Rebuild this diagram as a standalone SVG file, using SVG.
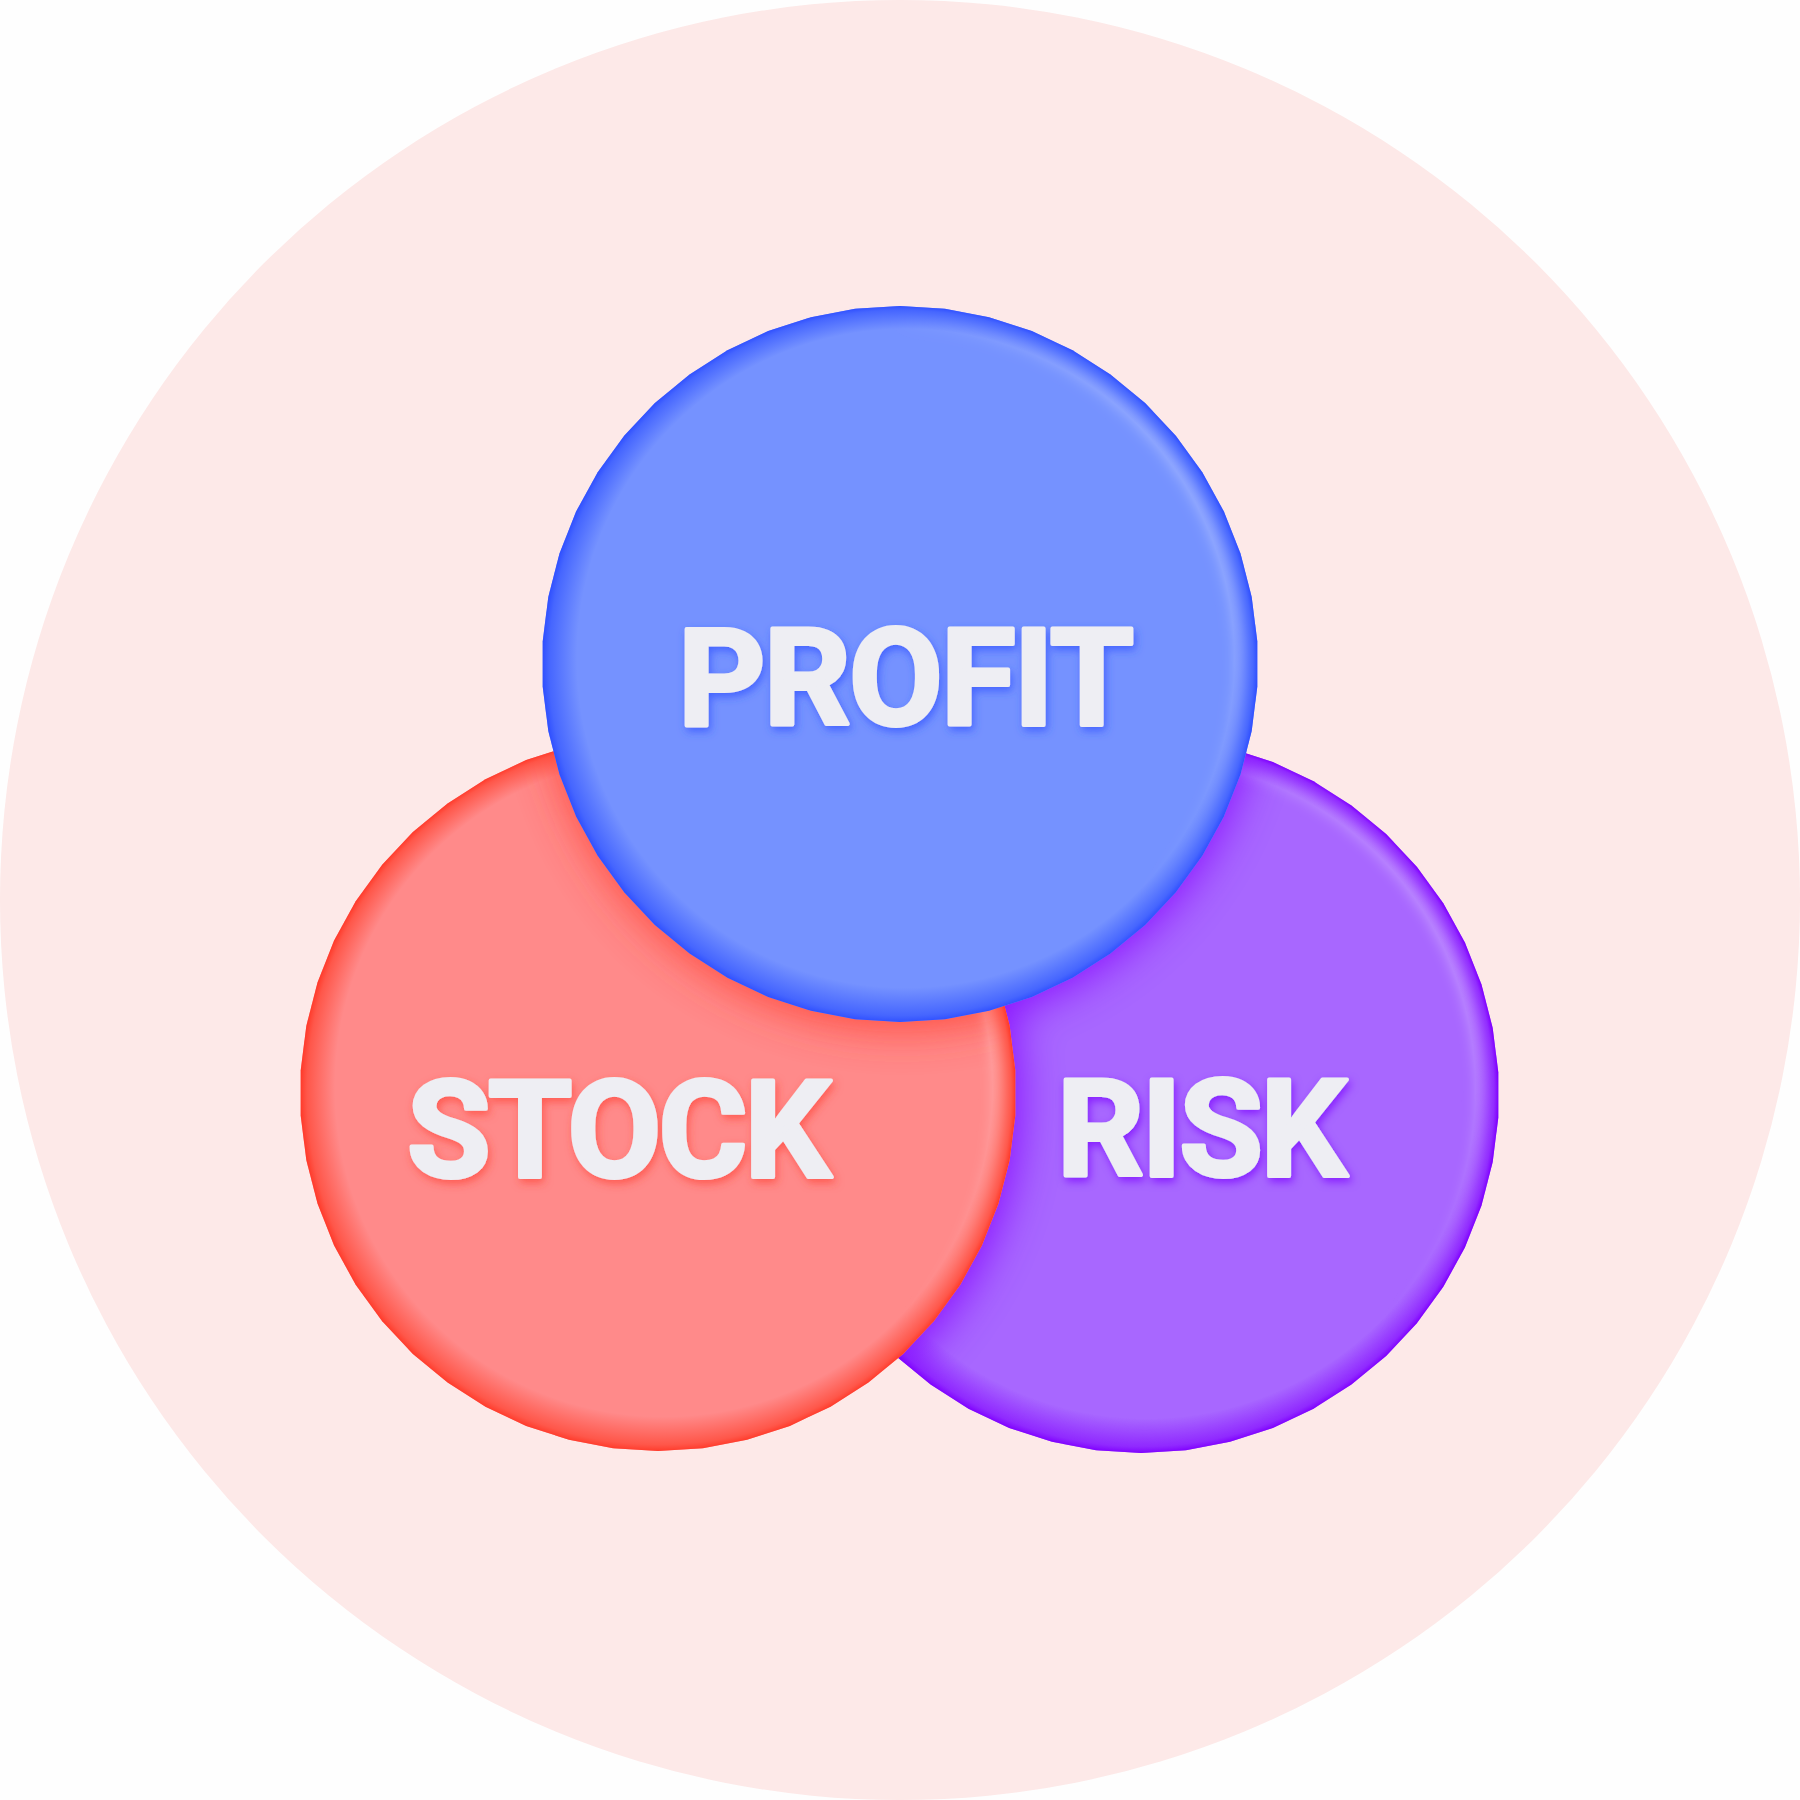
<svg xmlns="http://www.w3.org/2000/svg" xmlns:xlink="http://www.w3.org/1999/xlink" width="1800" height="1800" viewBox="0 0 1800 1800">
<defs>
<style>
.label{font-family:Roboto,"Liberation Sans",sans-serif;font-weight:700;font-size:136px;fill:#EEEEF3;stroke:#EEEEF3;stroke-width:4;stroke-linejoin:round}
.hl{fill:none;stroke:url(#hl);stroke-width:16}
</style>
<polygon id="disc" points="0,-358 44.9,-355.2 89,-346.8 131.8,-332.9 172.5,-313.7 210.4,-289.6 245.1,-261 275.8,-228.2 302.3,-191.8 323.9,-152.4 340.5,-110.6 351.7,-67.1 357.3,-22.5 357.3,22.5 351.7,67.1 340.5,110.6 323.9,152.4 302.3,191.8 275.8,228.2 245.1,261 210.4,289.6 172.5,313.7 131.8,332.9 89,346.8 44.9,355.2 0,358 -44.9,355.2 -89,346.8 -131.8,332.9 -172.5,313.7 -210.4,289.6 -245.1,261 -275.8,228.2 -302.3,191.8 -323.9,152.4 -340.5,110.6 -351.7,67.1 -357.3,22.5 -357.3,-22.5 -351.7,-67.1 -340.5,-110.6 -323.9,-152.4 -302.3,-191.8 -275.8,-228.2 -245.1,-261 -210.4,-289.6 -172.5,-313.7 -131.8,-332.9 -89,-346.8 -44.9,-355.2"/>
<radialGradient id="rimBlue" cx="0.5" cy="0.5" r="0.5" fx="0.6" fy="0.4">
<stop offset="0.92" stop-color="#3A5BFF" stop-opacity="0"/>
<stop offset="0.985" stop-color="#3A5BFF" stop-opacity="0.8"/>
<stop offset="1" stop-color="#3050FF" stop-opacity="1"/>
</radialGradient>
<radialGradient id="rimRed" cx="0.5" cy="0.5" r="0.5" fx="0.6" fy="0.4">
<stop offset="0.92" stop-color="#FF4A3A" stop-opacity="0"/>
<stop offset="0.985" stop-color="#FF4A3A" stop-opacity="0.8"/>
<stop offset="1" stop-color="#FF3B2B" stop-opacity="1"/>
</radialGradient>
<radialGradient id="rimPurple" cx="0.5" cy="0.5" r="0.5" fx="0.6" fy="0.4">
<stop offset="0.92" stop-color="#8A1AFF" stop-opacity="0"/>
<stop offset="0.985" stop-color="#8A1AFF" stop-opacity="0.8"/>
<stop offset="1" stop-color="#8000FF" stop-opacity="1"/>
</radialGradient>
<linearGradient id="hl" x1="0.2" y1="0.65" x2="1" y2="0.3">
<stop offset="0" stop-color="#FFFFFF" stop-opacity="0"/>
<stop offset="0.6" stop-color="#FFFFFF" stop-opacity="0"/>
<stop offset="1" stop-color="#FFFFFF" stop-opacity="0.35"/>
</linearGradient>
<filter id="soft" x="-10%" y="-10%" width="120%" height="120%">
<feGaussianBlur stdDeviation="7"/>
</filter>
<filter id="cast" x="-20%" y="-20%" width="140%" height="140%">
<feGaussianBlur stdDeviation="22"/>
</filter>
<filter id="tsBlue" x="-10%" y="-20%" width="120%" height="150%">
<feGaussianBlur in="SourceAlpha" stdDeviation="4"/>
<feOffset dx="2" dy="4" result="b"/>
<feFlood flood-color="#2F50FF" flood-opacity="0.7"/>
<feComposite in2="b" operator="in"/>
<feMerge><feMergeNode/><feMergeNode in="SourceGraphic"/></feMerge>
</filter>
<filter id="tsRed" x="-10%" y="-20%" width="120%" height="150%">
<feGaussianBlur in="SourceAlpha" stdDeviation="4"/>
<feOffset dx="2" dy="4" result="b"/>
<feFlood flood-color="#FF3B2B" flood-opacity="0.6"/>
<feComposite in2="b" operator="in"/>
<feMerge><feMergeNode/><feMergeNode in="SourceGraphic"/></feMerge>
</filter>
<filter id="tsPurple" x="-10%" y="-20%" width="120%" height="150%">
<feGaussianBlur in="SourceAlpha" stdDeviation="4"/>
<feOffset dx="2" dy="4" result="b"/>
<feFlood flood-color="#7A00FF" flood-opacity="0.7"/>
<feComposite in2="b" operator="in"/>
<feMerge><feMergeNode/><feMergeNode in="SourceGraphic"/></feMerge>
</filter>
<clipPath id="clipRed"><use xlink:href="#disc" transform="translate(658,1093)"/></clipPath>
<clipPath id="clipPurple"><use xlink:href="#disc" transform="translate(1141,1095)"/></clipPath>
<clipPath id="clipBlue"><use xlink:href="#disc" transform="translate(900,664)"/></clipPath>
</defs>

<rect width="1800" height="1800" fill="#FEFEFE"/>
<circle id="backdrop" cx="900" cy="900" r="900" fill="#FDE9E8"/>

<g id="node-risk">
<use xlink:href="#disc" transform="translate(1141,1095)" fill="#A867FF"/>
<g clip-path="url(#clipPurple)">
<g filter="url(#cast)" fill="#8400FF" opacity="0.85">
<use xlink:href="#disc" transform="translate(900,670)"/>
<use xlink:href="#disc" transform="translate(662,1099)"/>
</g>
<use class="hl" xlink:href="#disc" transform="translate(1141,1095) scale(0.96)" filter="url(#soft)"/>
</g>
<use xlink:href="#disc" transform="translate(1141,1095)" fill="url(#rimPurple)"/>
<text class="label" x="1057" y="1176" textLength="290" lengthAdjust="spacing" filter="url(#tsPurple)">RISK</text>
</g>

<g id="node-stock">
<use xlink:href="#disc" transform="translate(658,1093)" fill="#FF8A8A"/>
<g clip-path="url(#clipRed)">
<g filter="url(#cast)" fill="#FF3B2B" opacity="0.8">
<use xlink:href="#disc" transform="translate(902,670)"/>
</g>
<use class="hl" xlink:href="#disc" transform="translate(658,1093) scale(0.96)" filter="url(#soft)"/>
</g>
<use xlink:href="#disc" transform="translate(658,1093)" fill="url(#rimRed)"/>
<text class="label" x="407" y="1177" textLength="424" lengthAdjust="spacing" filter="url(#tsRed)">STOCK</text>
</g>

<g id="node-profit">
<use xlink:href="#disc" transform="translate(900,664)" fill="#7592FF"/>
<g clip-path="url(#clipBlue)">
<use class="hl" xlink:href="#disc" transform="translate(900,664) scale(0.96)" filter="url(#soft)"/>
</g>
<use xlink:href="#disc" transform="translate(900,664)" fill="url(#rimBlue)"/>
<text class="label" x="678" y="725" textLength="456" lengthAdjust="spacing" filter="url(#tsBlue)">PROFIT</text>
</g>

<g id="connectors"/>
</svg>
